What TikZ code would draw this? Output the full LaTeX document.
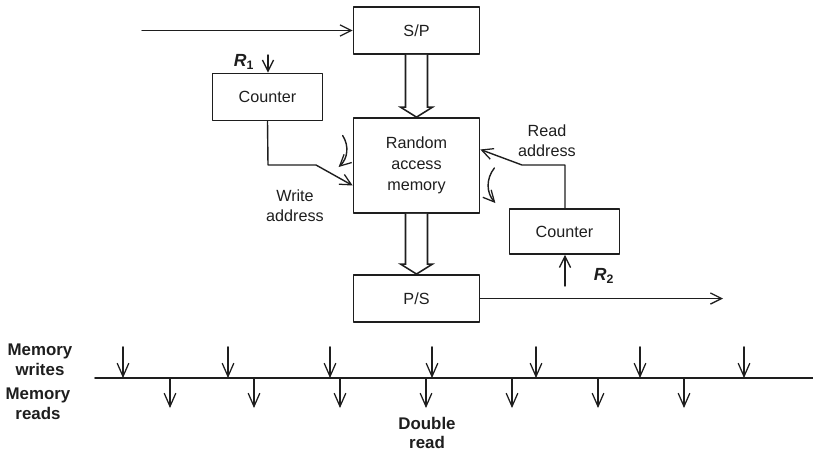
\documentclass[tikz,border=0pt]{standalone}
\usepackage{fontspec}
\setmainfont{Liberation Sans}
\usepackage{tikz}
\usetikzlibrary{arrows.meta,positioning,calc}
\definecolor{ink}{HTML}{1E1E1E}
\tikzset{
    every picture/.style={line cap=round,line join=round},
    blockbox/.style={draw=ink,line width=1.2pt,minimum width=3.15cm,minimum height=1.18cm,
      inner sep=2pt,text=ink,font=\fontsize{11.5}{15}\selectfont,align=center},
    ctrbox/.style={blockbox,minimum width=2.75cm,minimum height=1.18cm},
    flowarrow/.style={-{Straight Barb[length=2.8mm,width=2.8mm,line width=0.9pt]},
      draw=ink,line width=1pt},
    tickarrow/.style={-{Straight Barb[length=3.3mm,width=2.9mm,line width=0.9pt]},
      draw=ink,line width=1.1pt},
    hollow/.style={draw=ink,line width=1.1pt,fill=white,line join=miter},
    textlabel/.style={text=ink,inner sep=0pt,align=center,
      font=\fontsize{11.5}{14.5}\selectfont},
    boldlabel/.style={text=ink,inner sep=0pt,align=center,
      font=\fontsize{12}{14}\selectfont\bfseries},
    ratelabel/.style={text=ink,inner sep=0pt,font=\fontsize{12.5}{14}\selectfont\bfseries\itshape}
}
% wide outlined arrow between two stacked blocks
\newcommand{\hollowarrow}[2]{%
  \draw[hollow] ($(#1.south)+(-11,0)$) -- ($(#2.north)+(-11,-10)$) -- ($(#2.north)+(-16,-10)$)
    -- (#2.north) -- ($(#2.north)+(16,-10)$) -- ($(#2.north)+(11,-10)$) -- ($(#1.south)+(11,0)$);}

\begin{document}
\begin{tikzpicture}[x=0.025cm,y=-0.025cm]
  \useasboundingbox (0,0) rectangle (813,454);

  % blocks
  \node[blockbox] (sp) at (416.5,30.5) {S/P};
  \node[blockbox,minimum height=2.375cm] (ram) at (416.5,165.5) {Random\\access\\memory};
  \node[blockbox] (ps) at (416.5,298.5) {P/S};
  \node[ctrbox] (cnta) at (267.5,97) {Counter};
  \node[ctrbox,minimum height=1.13cm] (cntb) at (564.5,231.5) {Counter};

  \hollowarrow{sp}{ram}
  \hollowarrow{ram}{ps}

  % serial in / out
  \coordinate (sin) at (142,30.5);
  \coordinate (sout) at (723,298.5);
  \draw[flowarrow] (sin) -- (sp.west);
  \draw[flowarrow] (ps.east) -- (sout);

  % write side
  \coordinate (ra) at (268,55);
  \draw[flowarrow] (ra) -- (ra |- cnta.north);
  \node[ratelabel] (rla) at (244,62) {R\textsubscript{\upshape 1}};
  \draw[flowarrow] (cnta.south) -- (268,165) -- (316,165) -- ($(ram.west)+(0,20)$);
  \draw[flowarrow] ($(ram.west)+(-10,-30)$) to[bend left=40] ($(ram.west)+(-14,1.5)$);
  \node[textlabel] (wlab) at (295,206) {Write\\address};

  % read side
  \coordinate (rb) at (565,286);
  \draw[flowarrow] (rb) -- (rb |- cntb.south);
  \node[ratelabel] (rlb) at (604,276) {R\textsubscript{\upshape 2}};
  \draw[flowarrow] (cntb.north -| rb) -- (565,165) -- (522,165) -- ($(ram.east)+(0,-16)$);
  \draw[flowarrow] ($(ram.east)+(14,2.5)$) to[bend right=40] ($(ram.east)+(15,37.5)$);
  \node[textlabel] (rdlab) at (547,141) {Read\\address};

  % timing line
  \coordinate (tl) at (95,378);
  \coordinate (tr) at (813,378);
  \draw[ink,line width=1.2pt] (tl) -- (tr);
  \foreach \x in {123,228,330,432,536,640,744}
    \draw[tickarrow] (\x,347) -- (\x,378);
  \foreach \x in {170,254,340,426,512,598,684}
    \draw[tickarrow] (\x,378) -- (\x,408);
  \node[boldlabel] (mw) at (40,360) {Memory\\writes};
  \node[boldlabel] (mr) at (38,404) {Memory\\reads};
  \node[boldlabel,font=\fontsize{12}{13}\selectfont\bfseries] (dr) at (427,433) {Double\\read};
\end{tikzpicture}
\end{document}
